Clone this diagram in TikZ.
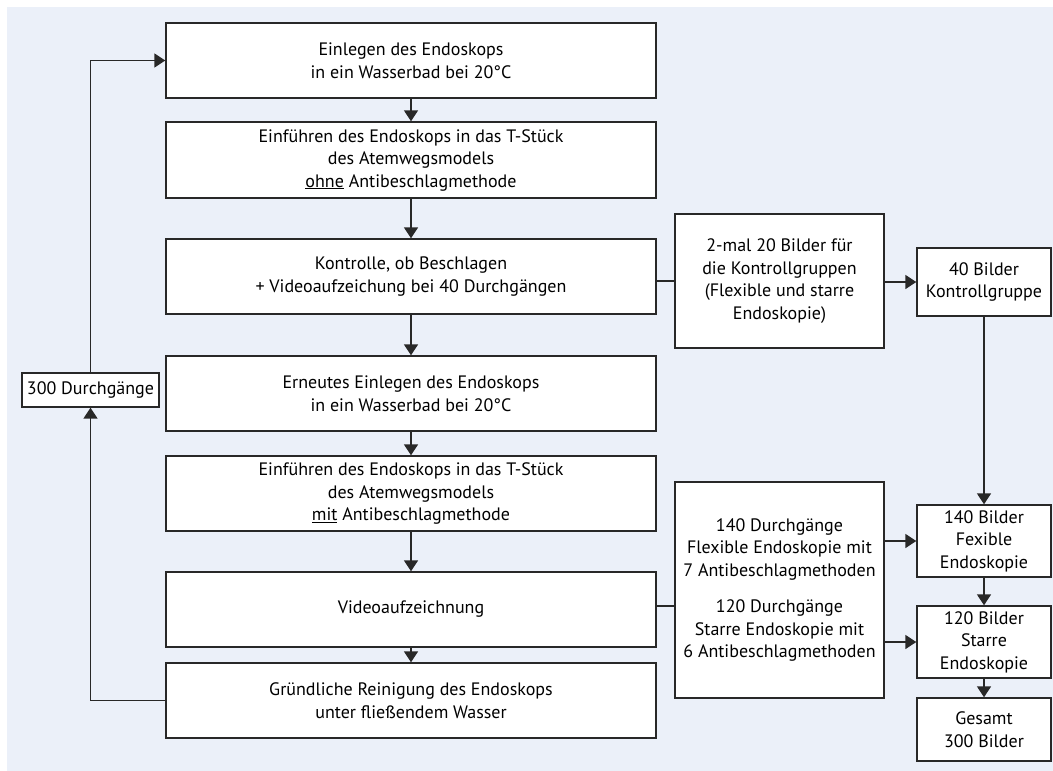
\documentclass[tikz,border=0pt]{standalone}
\usepackage{fontspec}
\setmainfont{PT Sans}
\usepackage{tikz}
\usetikzlibrary{arrows.meta,positioning,calc}

\definecolor{bgblue}{RGB}{235,240,249}
\definecolor{linegray}{RGB}{40,40,40}

\begin{document}
\begin{tikzpicture}[x=1pt, y=-1pt,
    box/.style={draw=linegray, line width=1.4pt, fill=white, align=center,
        inner sep=0pt, font=\fontsize{18}{22.5}\selectfont},
    link/.style={draw=linegray, line width=1.6pt},
    arr/.style={link, -{Triangle[length=11pt,width=14pt]}}]
    \useasboundingbox (0,0) rectangle (1053,771);
    \fill[bgblue] (7,7) rectangle (1053,771);

    % Main column
    \node[box, minimum width=490pt, minimum height=75pt] (einlegen) at (411,60.5)
        {Einlegen des Endoskops\\in ein Wasserbad bei 20°C};
    \node[box, minimum width=490pt, minimum height=76pt] (ohne) at (411,160)
        {Einführen des Endoskops in das T-Stück\\des Atemwegsmodels\\\underline{ohne} Antibeschlagmethode};
    \node[box, minimum width=490pt, minimum height=75pt] (kontrolle) at (411,276.5)
        {Kontrolle, ob Beschlagen\\+ Videoaufzeichung bei 40 Durchgängen};
    \node[box, minimum width=490pt, minimum height=75pt] (erneut) at (411,393.5)
        {Erneutes Einlegen des Endoskops\\in ein Wasserbad bei 20°C};
    \node[box, minimum width=490pt, minimum height=75pt] (mit) at (411,493.5)
        {Einführen des Endoskops in das T-Stück\\des Atemwegsmodels\\\underline{mit} Antibeschlagmethode};
    \node[box, minimum width=490pt, minimum height=75pt] (video) at (411,609.5)
        {Videoaufzeichnung};
    \node[box, minimum width=490pt, minimum height=75pt] (reinigung) at (411,700.5)
        {Gründliche Reinigung des Endoskops\\unter fließendem Wasser};

    % Loop
    \node[box, minimum width=137pt, minimum height=34pt] (runs) at (90.5,390)
        {300 Durchgänge};

    % Middle column
    \node[box, minimum width=209pt, minimum height=134pt] (zweimal) at (779.5,281)
        {2-mal 20 Bilder für\\die Kontrollgruppen\\(Flexible und starre\\Endoskopie)};
    \node[box, minimum width=209pt, minimum height=216pt] (durchg) at (779.5,590)
        {140 Durchgänge\\Flexible Endoskopie mit\\7 Antibeschlagmethoden\\[14pt]
         120 Durchgänge\\Starre Endoskopie mit\\6 Antibeschlagmethoden};

    % Right column
    \node[box, minimum width=134pt, minimum height=68pt] (bilder40) at (984,282)
        {40 Bilder\\Kontrollgruppe};
    \node[box, minimum width=134pt, minimum height=72pt] (bilder140) at (984,541)
        {140 Bilder\\Fexible\\Endoskopie};
    \node[box, minimum width=134pt, minimum height=72pt] (bilder120) at (984,642)
        {120 Bilder\\Starre\\Endoskopie};
    \node[box, minimum width=134pt, minimum height=63pt] (gesamt) at (984,729.5)
        {Gesamt\\300 Bilder};

    % Arrows main column
    \draw[arr] (einlegen) -- (ohne);
    \draw[arr] (ohne) -- (kontrolle);
    \draw[arr] (kontrolle) -- (erneut);
    \draw[arr] (erneut) -- (mit);
    \draw[arr] (mit) -- (video);
    \draw[arr] (video) -- (reinigung);

    % Loop back
    \draw[arr] (reinigung.west) -| (runs.south);
    \draw[arr] (runs.north) |- (einlegen.west);

    % Side branches
    \draw[link] (zweimal.west) -- (zweimal.west -| kontrolle.east);
    \draw[arr] (zweimal.east |- bilder40) -- (bilder40.west);
    \draw[arr] (bilder40) -- (bilder140);
    \draw[link] (video.east |- 0,606) -- (durchg.west |- 0,606);
    \draw[arr] (durchg.east |- bilder140) -- (bilder140.west);
    \draw[arr] (durchg.east |- bilder120) -- (bilder120.west);
    \draw[arr] (bilder140) -- (bilder120);
    \draw[arr] (bilder120) -- (gesamt);
\end{tikzpicture}
\end{document}
